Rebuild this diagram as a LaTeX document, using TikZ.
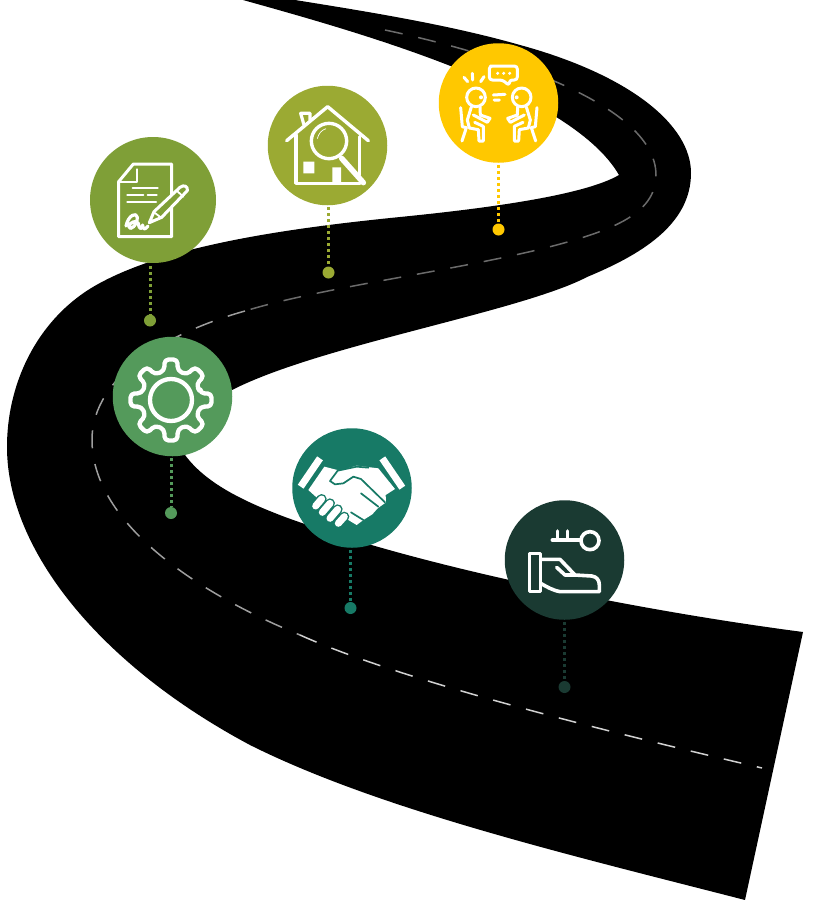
\documentclass[tikz,border=0pt]{standalone}
\usetikzlibrary{calc}
\definecolor{cDoc}{HTML}{7F9F37}
\definecolor{cHouse}{HTML}{9BAA33}
\definecolor{cTalk}{HTML}{FFC800}
\definecolor{cGear}{HTML}{549A5B}
\definecolor{cShake}{HTML}{177A66}
\definecolor{cKey}{HTML}{1A3A32}
\tikzset{
  disc/.style={circle,fill=#1,draw=none,inner sep=0pt,minimum size=119.5pt,outer sep=0pt},
  pinhead/.style={circle,fill=#1,draw=none,inner sep=0pt,minimum size=12pt,outer sep=0pt},
  pinline/.style={draw=#1,line width=3pt,dash pattern=on 3pt off 3pt},
  lane/.style={line width=1.5pt,dash pattern=on 18pt off 16pt},
  ico/.style={draw=white,line width=3pt,line cap=round,line join=round},
}
\newcommand{\seatedperson}{%
  \draw[ico] (138,187) circle (28);
  \fill[white] (153,187) circle (6);
  \draw[ico] (92,218) -- (97,275) -- (109,278) -- (96,318);
  \draw[ico] (124,216) -- (112,255) -- (118,279) -- (145,284) -- (147,318) -- (160,318) -- (160,274) -- (134,262);
  \draw[ico] (150,216) -- (151,240) -- (180,250) -- (172,262) -- (130,240);
}
\begin{document}
\begin{tikzpicture}[x=1pt,y=-1pt]
\useasboundingbox (0,0) rectangle (820,900);
% road
\fill[black] (243,0)
  .. controls (350,30) and (570,90) .. (619,175)
  .. controls (585,195) and (490,208) .. (400,217)
  .. controls (290,228) and (170,245) .. (100,283)
  .. controls (40,315) and (7,380) .. (7,447)
  .. controls (7,550) and (100,665) .. (250,745)
  .. controls (380,810) and (570,855) .. (745,900)
  -- (803,632)
  .. controls (650,612) and (430,570) .. (285,517)
  .. controls (240,500) and (205,482) .. (185,455)
  .. controls (165,428) and (175,410) .. (232,390)
  .. controls (320,345) and (520,312) .. (587,277)
  .. controls (640,255) and (691,225) .. (691,173)
  .. controls (691,125) and (630,75) .. (520,45)
  .. controls (450,25) and (370,12) .. (295,0)
  -- cycle;
% lane
\draw[lane,draw=black!58] (385,30) .. controls (480,50) and (656,100) .. (656,175)
  .. controls (656,215) and (610,232) .. (537,250)
  .. controls (440,273) and (320,288) .. (245,311);
\draw[lane,draw=black!38] (245,311) .. controls (170,332) and (92,375) .. (92,440)
  .. controls (92,520) and (190,590) .. (300,635);
\draw[lane,draw=black!18] (300,635) .. controls (400,680) and (600,730) .. (762,768);
% discs
\node[disc=cDoc,minimum size=126pt] (c1) at (153,200) {};
\node[disc=cHouse] (c2) at (327.5,145.5) {};
\node[disc=cTalk] (c3) at (498.5,103) {};
\node[disc=cGear] (c4) at (172.5,396.5) {};
\node[disc=cShake] (c5) at (352,488) {};
\node[disc=cKey] (c6) at (564.5,560) {};
% pins
\node[pinhead=cDoc] (d1) at (150,320.5) {};
\node[pinhead=cHouse] (d2) at (328.5,272.5) {};
\node[pinhead=cTalk] (d3) at (498.5,229.5) {};
\node[pinhead=cGear] (d4) at (171,513) {};
\node[pinhead=cShake] (d5) at (350.5,608) {};
\node[pinhead=cKey] (d6) at (564.5,687) {};
\draw[pinline=cDoc] (d1 |- c1.south) ++(0,3) -- (d1);
\draw[pinline=cHouse] (d2 |- c2.south) ++(0,2) -- (d2);
\draw[pinline=cTalk] (d3 |- c3.south) ++(0,2) -- (d3);
\draw[pinline=cGear] (d4 |- c4.south) ++(0,2) -- (d4);
\draw[pinline=cShake] (d5 |- c5.south) ++(0,2) -- (d5);
\draw[pinline=cKey] (d6 |- c6.south) ++(0,2) -- (d6);
% document icon
\begin{scope}[shift={(80,130)},scale=1/3]
  \draw[ico] (116,155) -- (160,102) -- (275,102) -- (275,320) -- (116,320) -- cycle;
  \draw[ico,line width=2.3pt] (170,118) -- (170,155) -- (116,155);
  \draw[ico,line width=2.3pt] (158,175) -- (233,175) (142,195) -- (190,195) (203,195) -- (230,195) (142,216) -- (228,216);
  \draw[ico,fill=cDoc] (208,278) -- (222,245) -- (300,172) .. controls (312,162) and (325,170) .. (322,182) -- (245,262) -- cycle;
  \draw[ico,line width=1.8pt] (222,247) -- (245,264) (290,182) -- (310,200);
  \draw[ico,line width=3.2pt] (138,288) .. controls (145,255) and (170,245) .. (172,262) .. controls (172,285) and (150,305) .. (146,290) .. controls (150,275) and (170,270) .. (175,280) .. controls (178,300) and (185,300) .. (188,285) .. controls (188,300) and (195,300) .. (204,288);
\end{scope}
% house icon
\begin{scope}[shift={(260,80)},scale=1/3]
  \draw[ico,line width=3.4pt] (80,182) -- (203,80) -- (325,182);
  \draw[ico,line width=3.4pt] (108,165) -- (108,310) -- (300,310);
  \draw[ico,line width=3.4pt] (298,170) -- (298,285);
  \draw[ico,line width=3.2pt] (132,135) -- (122,100) -- (150,100) -- (150,120);
  \fill[white] (130,245) rectangle (163,280) (217,262) rectangle (243,310);
  \draw[draw=white,line width=5.5pt,line cap=round] (245,235) -- (310,308);
  \draw[ico,line width=3.4pt,fill=cHouse] (207,183) circle (53);
  \draw[white,line width=.7pt] (172,176) .. controls (176,160) and (185,150) .. (198,146);
\end{scope}
% talk icon
\begin{scope}[shift={(430,35)},scale=1/3]
  \draw[ico,rounded corners=3pt] (190,93) -- (262,93) -- (262,135) -- (238,135) -- (238,152) -- (218,135) -- (178,135) -- (178,93) -- cycle;
  \fill[white] (203,115) circle (5) (221,115) circle (5) (239,115) circle (5);
  \draw[ico] (102,127) -- (113,140) (127,115) -- (128,135) (162,125) -- (152,140);
  \draw[ico] (190,180) -- (225,178) (192,195) -- (208,195);
  \seatedperson
  \begin{scope}[shift={(413,0)},xscale=-1]
    \seatedperson
  \end{scope}
\end{scope}
% gear icon
\begin{scope}[shift={(171,400)}]
  \draw[ico,line width=4.3pt] (0,0) circle (21);
  \draw[ico,line width=4.3pt,rounded corners=4pt] (-13:30)
    \foreach \a in {0,45,...,315} { -- ($(\a-13:30)$) -- ($(\a-9:41)$) -- ($(\a+9:41)$) -- ($(\a+13:30)$) } -- cycle;
\end{scope}
% handshake icon
\begin{scope}[shift={(285,425)},scale=1/3]
  \fill[white] (118,125) -- (165,137) -- (215,122) -- (280,130) -- (330,192) -- (302,210) -- (303,232) -- (278,250) -- (262,268) -- (235,285) -- (215,300) -- (190,285) -- (120,240) -- (70,195) -- cycle;
  \draw[draw=white,line width=7pt] (105,100) -- (47,185) (292,100) -- (352,188);
  \draw[draw=cShake,line width=1.7pt,line join=round,line cap=round] (250,128) -- (215,125) -- (158,137) -- (135,168) -- (150,178) -- (175,175) -- (205,155) -- (228,162) -- (300,232);
  \draw[draw=cShake,line width=1.7pt,line cap=round] (228,205) -- (280,245) (198,262) -- (235,285);
  \foreach \ax/\ay/\bx/\by in {110/222/92/243,135/235/112/262,158/253/135/280,178/275/160/295}{
    \draw[draw=cShake,line width=10pt,line cap=round] (\ax,\ay) -- (\bx,\by);
    \draw[draw=white,line width=7pt,line cap=round] (\ax,\ay) -- (\bx,\by);
  }
\end{scope}
% key icon
\begin{scope}[shift={(500,495)},scale=1/3]
  \draw[ico,line width=3.6pt] (270,137) circle (27);
  \draw[ico,line width=3.6pt] (157,135) -- (243,135) (172,108) -- (172,135) (202,108) -- (202,135);
  \draw[ico,line width=3.6pt] (88,175) rectangle (122,290);
  \draw[ico,line width=3.6pt] (122,193) -- (180,193) -- (225,240) -- (275,243) .. controls (290,245) and (298,255) .. (298,270) -- (298,290) -- (180,290) .. controls (155,285) and (140,275) .. (122,265);
  \draw[ico,line width=3.6pt] (170,217) -- (195,240) -- (225,240);
\end{scope}
\end{tikzpicture}
\end{document}
